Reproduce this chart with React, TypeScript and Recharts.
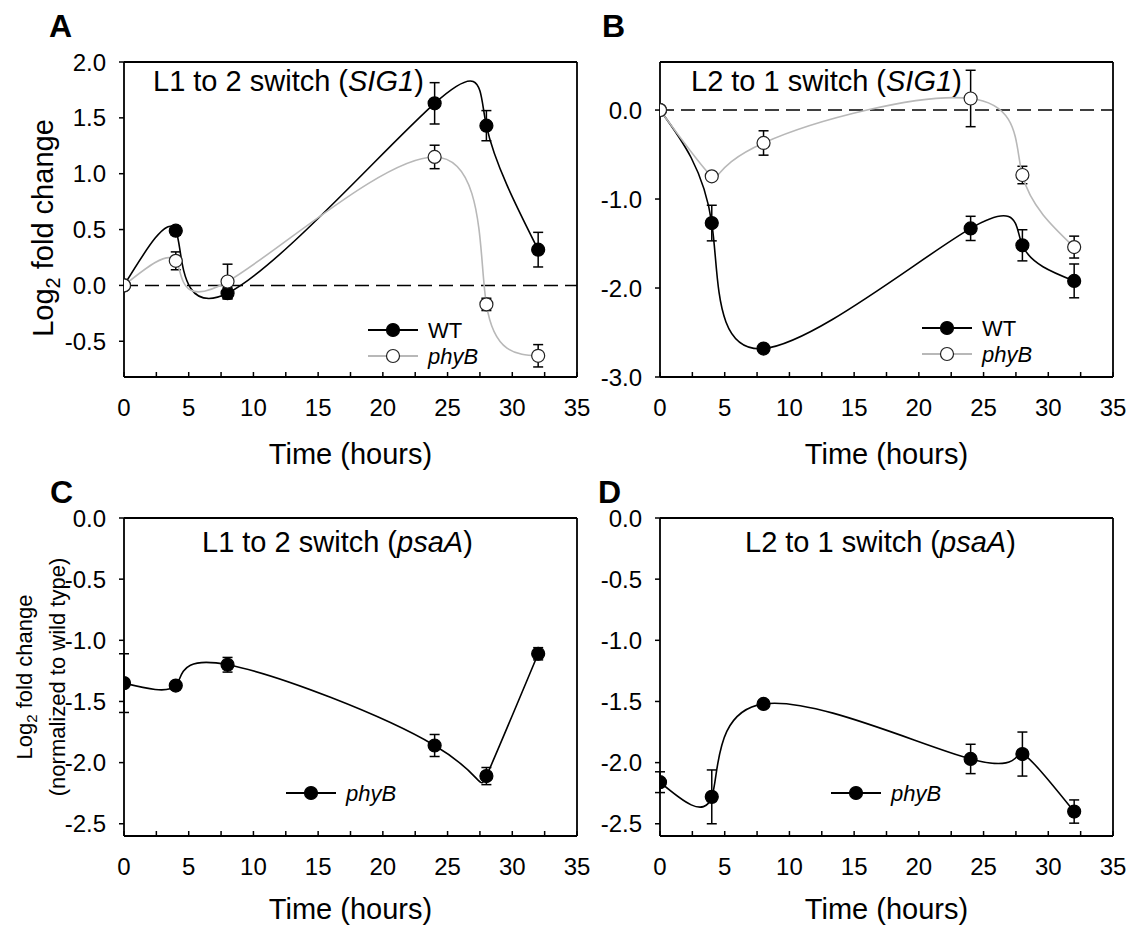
import React from "react";
import {
  LineChart,
  Line,
  XAxis,
  YAxis,
  ErrorBar,
  ReferenceLine,
  Legend,
} from "recharts";

const FONT = '"Liberation Sans", Arial, Helvetica, sans-serif';

// sampling times (hours)
const hours = [0, 4, 8, 24, 28, 32];
const xTicks = [0, 2.5, 5, 7.5, 10, 12.5, 15, 17.5, 20, 22.5, 25, 27.5, 30, 32.5, 35];

// A: L1 to 2 switch (SIG1)
const sig1L12Wt = [0, 0.49, -0.07, 1.63, 1.43, 0.32];
const sig1L12WtErr = [0, 0.04, 0.05, 0.185, 0.135, 0.155];
const sig1L12PhyB = [0, 0.22, 0.035, 1.15, -0.17, -0.63];
const sig1L12PhyBErr = [0, 0.08, 0.155, 0.105, 0.055, 0.1];

// B: L2 to 1 switch (SIG1)
const sig1L21Wt = [0, -1.27, -2.68, -1.33, -1.52, -1.92];
const sig1L21WtErr = [0, 0.2, 0.03, 0.136, 0.175, 0.19];
const sig1L21PhyB = [0, -0.745, -0.37, 0.13, -0.73, -1.54];
const sig1L21PhyBErr = [0, 0.03, 0.137, 0.317, 0.098, 0.123];

// C: L1 to 2 switch (psaA), phyB normalized to wild type
const psaAL12PhyB = [-1.35, -1.37, -1.2, -1.86, -2.11, -1.11];
const psaAL12PhyBErr = [0.24, 0.03, 0.06, 0.09, 0.07, 0.05];

// D: L2 to 1 switch (psaA)
const psaAL21PhyB = [-2.16, -2.28, -1.52, -1.97, -1.93, -2.4];
const psaAL21PhyBErr = [0.085, 0.22, 0.02, 0.12, 0.18, 0.095];

const yTicksA = [-0.5, 0, 0.5, 1, 1.5, 2];
const yTicksB = [-3, -2, -1, 0];
const yTicksCD = [-2.5, -2, -1.5, -1, -0.5, 0];

type Row = { t: number; [k: string]: number | undefined };

function buildRows(cols: Record<string, number[]>): Row[] {
  return hours.map((t, i) => {
    const row: Row = { t };
    Object.keys(cols).forEach((k) => {
      row[k] = cols[k][i];
    });
    return row;
  });
}

const dataA = buildRows({ wt: sig1L12Wt, wtErr: sig1L12WtErr, phyB: sig1L12PhyB, phyBErr: sig1L12PhyBErr });
const dataB = buildRows({ wt: sig1L21Wt, wtErr: sig1L21WtErr, phyB: sig1L21PhyB, phyBErr: sig1L21PhyBErr });
const dataC = buildRows({ phyB: psaAL12PhyB, phyBErr: psaAL12PhyBErr });
const dataD = buildRows({ phyB: psaAL21PhyB, phyBErr: psaAL21PhyBErr });

type Series = {
  key: string;
  errKey: string;
  name: string;
  stroke: string;
  dotFill: string;
  dotStroke: string;
};

const wtSeries: Series = { key: "wt", errKey: "wtErr", name: "WT", stroke: "#000", dotFill: "#000", dotStroke: "#000" };
const phyBGray: Series = { key: "phyB", errKey: "phyBErr", name: "phyB", stroke: "#b8b8b8", dotFill: "#fff", dotStroke: "#222" };
const phyBBlack: Series = { key: "phyB", errKey: "phyBErr", name: "phyB", stroke: "#000", dotFill: "#000", dotStroke: "#000" };

const renderXTick = (props: any) => {
  const { x, y, payload } = props;
  const v = payload.value as number;
  const major = v % 5 === 0;
  return (
    <g>
      <line x1={x} x2={x} y1={y} y2={y - 5} stroke="#000" strokeWidth={1.5} />
      {major && (
        <text x={x} y={y + 39} textAnchor="middle" fontSize={24} fill="#000" fontFamily={FONT}>
          {v}
        </text>
      )}
    </g>
  );
};

interface PanelProps {
  left: number;
  top: number;
  width: number;
  height: number;
  yAxisWidth: number;
  marginRight: number;
  xAxisHeight: number;
  data: Row[];
  series: Series[];
  yDomain: [number, number];
  yTicks: number[];
  zeroLine: boolean;
  legendLeft: number;
  legendTop: number;
}

function Panel({
  left,
  top,
  width,
  height,
  yAxisWidth,
  marginRight,
  xAxisHeight,
  data,
  series,
  yDomain,
  yTicks,
  zeroLine,
  legendLeft,
  legendTop,
}: PanelProps) {
  const legendContent = () => (
    <svg width={150} height={series.length * 26} style={{ display: "block" }}>
      {series.map((s, i) => {
        const cy = 13 + i * 26;
        return (
          <g key={s.key}>
            <line x1={0} x2={50} y1={cy} y2={cy} stroke={s.stroke} strokeWidth={1.8} />
            <circle cx={25} cy={cy} r={6.5} fill={s.dotFill} stroke={s.dotStroke} strokeWidth={1.2} />
            <text
              x={60}
              y={cy + 8}
              fontSize={22}
              fontFamily={FONT}
              fontStyle={s.name === "phyB" ? "italic" : "normal"}
              fill="#000"
            >
              {s.name}
            </text>
          </g>
        );
      })}
    </svg>
  );

  return (
    <div style={{ position: "absolute", left, top }}>
      <LineChart
        width={width}
        height={height}
        data={data}
        margin={{ top: 62, right: marginRight, bottom: 0, left: 0 }}
        style={{ fontFamily: FONT }}
      >
        <XAxis
          dataKey="t"
          type="number"
          domain={[0, 35]}
          ticks={xTicks}
          interval={0}
          tickLine={false}
          tickSize={0}
          tickMargin={0}
          tick={renderXTick}
          height={xAxisHeight}
          axisLine={{ stroke: "#000", strokeWidth: 1.8 }}
          allowDataOverflow
        />
        <YAxis
          type="number"
          domain={yDomain}
          ticks={yTicks}
          interval={0}
          width={yAxisWidth}
          tickSize={5}
          tickMargin={13}
          tickLine={{ stroke: "#000", strokeWidth: 1.5 }}
          axisLine={{ stroke: "#000", strokeWidth: 1.8 }}
          tick={{ fontSize: 24, fill: "#000" }}
          tickFormatter={(v: number) => v.toFixed(1)}
          allowDataOverflow
        />
        <ReferenceLine y={yDomain[1]} stroke="#000" strokeWidth={1.8} ifOverflow="visible" />
        <ReferenceLine x={35} stroke="#000" strokeWidth={1.8} ifOverflow="visible" />
        {zeroLine && (
          <ReferenceLine y={0} stroke="#000" strokeWidth={1.5} strokeDasharray="14 7" />
        )}
        {series.map((s) => (
          <Line
            key={s.key}
            dataKey={s.key}
            name={s.name}
            type="natural"
            stroke={s.stroke}
            strokeWidth={1.6}
            dot={{ r: 6.5, fill: s.dotFill, stroke: s.dotStroke, strokeWidth: 1.2 }}
            activeDot={false}
            isAnimationActive={false}
          >
            <ErrorBar dataKey={s.errKey} width={5} stroke="#000" strokeWidth={1.5} direction="y" />
          </Line>
        ))}
        <Legend
          layout="vertical"
          align="center"
          verticalAlign="middle"
          content={legendContent}
          wrapperStyle={{ left: legendLeft, top: legendTop, width: 150 }}
        />
      </LineChart>
    </div>
  );
}

function Title({ x, y, pre, gene }: { x: number; y: number; pre: string; gene: string }) {
  return (
    <text x={x} y={y} fontSize={29} fontFamily={FONT} fill="#000">
      {pre}
      <tspan fontStyle="italic">{gene}</tspan>)
    </text>
  );
}

export default function App() {
  return (
    <div
      style={{
        position: "absolute",
        left: 0,
        top: 0,
        width: 1129,
        height: 929,
        background: "#fff",
        overflow: "hidden",
      }}
    >
      <Panel
        left={0}
        top={0}
        width={600}
        height={456}
        yAxisWidth={124}
        marginRight={23}
        xAxisHeight={79}
        data={dataA}
        series={[wtSeries, phyBGray]}
        yDomain={[-0.82, 2]}
        yTicks={yTicksA}
        zeroLine
        legendLeft={368}
        legendTop={317}
      />
      <Panel
        left={560}
        top={0}
        width={569}
        height={456}
        yAxisWidth={100}
        marginRight={16}
        xAxisHeight={79}
        data={dataB}
        series={[wtSeries, phyBGray]}
        yDomain={[-3, 0.54]}
        yTicks={yTicksB}
        zeroLine
        legendLeft={922 - 560}
        legendTop={315}
      />
      <Panel
        left={0}
        top={456}
        width={600}
        height={470}
        yAxisWidth={124}
        marginRight={23}
        xAxisHeight={90}
        data={dataC}
        series={[phyBBlack]}
        yDomain={[-2.6, 0]}
        yTicks={yTicksCD}
        zeroLine={false}
        legendLeft={286}
        legendTop={793 - 13 - 456}
      />
      <Panel
        left={560}
        top={456}
        width={569}
        height={470}
        yAxisWidth={100}
        marginRight={16}
        xAxisHeight={90}
        data={dataD}
        series={[phyBBlack]}
        yDomain={[-2.6, 0]}
        yTicks={yTicksCD}
        zeroLine={false}
        legendLeft={831 - 560}
        legendTop={793 - 13 - 456}
      />
      <svg
        width={1129}
        height={929}
        style={{ position: "absolute", left: 0, top: 0, pointerEvents: "none" }}
      >
        <g fontFamily={FONT} fontWeight="bold" fontSize={32} fill="#000">
          <text x={49} y={37}>A</text>
          <text x={602} y={37}>B</text>
          <text x={50} y={503}>C</text>
          <text x={598} y={503}>D</text>
        </g>
        <Title x={153} y={91} pre="L1 to 2 switch (" gene="SIG1" />
        <Title x={691} y={91} pre="L2 to 1 switch (" gene="SIG1" />
        <Title x={202} y={552} pre="L1 to 2 switch (" gene="psaA" />
        <Title x={745} y={552} pre="L2 to 1 switch (" gene="psaA" />
        <g fontFamily={FONT} fontSize={29} fill="#000" textAnchor="middle">
          <text x={350.5} y={464}>Time (hours)</text>
          <text x={886.5} y={464}>Time (hours)</text>
          <text x={350.5} y={919}>Time (hours)</text>
          <text x={886.5} y={919}>Time (hours)</text>
        </g>
        <text
          transform="translate(53,228) rotate(-90)"
          textAnchor="middle"
          fontFamily={FONT}
          fontSize={29}
          fill="#000"
        >
          Log<tspan fontSize={20} dy={7}>2</tspan>
          <tspan dy={-7}> fold change</tspan>
        </text>
        <text
          transform="translate(31.5,677) rotate(-90)"
          textAnchor="middle"
          fontFamily={FONT}
          fontSize={22}
          fill="#000"
        >
          Log<tspan fontSize={15} dy={5}>2</tspan>
          <tspan dy={-5}> fold change</tspan>
        </text>
        <text
          transform="translate(65,677) rotate(-90)"
          textAnchor="middle"
          fontFamily={FONT}
          fontSize={22}
          fill="#000"
        >
          (normalized to wild type)
        </text>
      </svg>
    </div>
  );
}
